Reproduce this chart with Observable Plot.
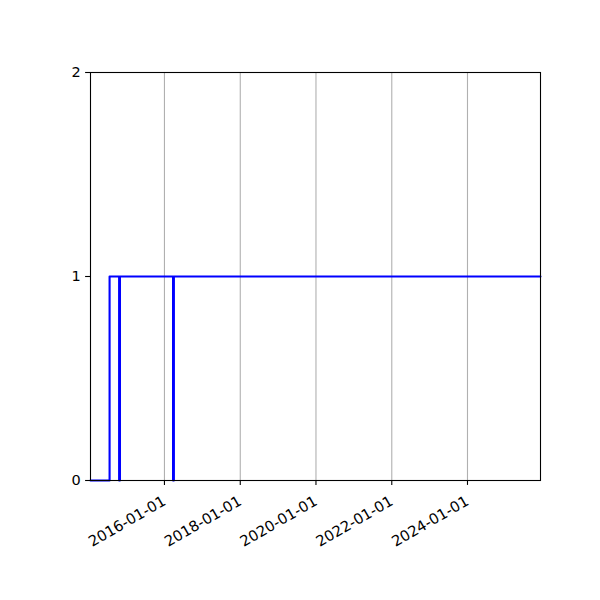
<!DOCTYPE html>
<html>
<head>
<meta charset="utf-8">
<script src="https://cdn.jsdelivr.net/npm/d3@7"></script>
<script src="https://cdn.jsdelivr.net/npm/@observablehq/plot@0.6"></script>
<style>
  html, body { margin: 0; padding: 0; background: #fff; }
  #chart svg { font-family: "DejaVu Sans", sans-serif; }
</style>
</head>
<body>
<div id="chart"></div>
<script>
const dates = ["2014-01-18", "2014-07-21", "2014-10-21", "2014-10-29", "2016-03-24", "2016-04-01", "2025-12-05"];
const values = [0, 1, 0, 1, 0, 1, 1];
const xDomain = ["2014-01-18", "2025-12-05"];
const xTickLabels = ["2016-01-01", "2018-01-01", "2020-01-01", "2022-01-01", "2024-01-01"];
const yTicks = [0, 1, 2];

const parse = d3.utcParse("%Y-%m-%d");
const data = dates.map((d, i) => ({date: parse(d), value: values[i]}));
const xTicks = xTickLabels.map(parse);
const fmt = d3.utcFormat("%Y-%m-%d");
const FONT = "DejaVu Sans, sans-serif";

const chart = Plot.plot({
  width: 600,
  height: 600,
  marginLeft: 90,
  marginRight: 60,
  marginTop: 72,
  marginBottom: 120,
  style: {fontFamily: FONT, color: "black", background: "white"},
  x: {type: "utc", domain: xDomain.map(parse)},
  y: {domain: [0, 2]},
  marks: [
    Plot.gridX(xTicks, {stroke: "#b0b0b0", strokeOpacity: 1, strokeWidth: 1.1}),
    Plot.line(data, {x: "date", y: "value", curve: "step-after", stroke: "blue", strokeWidth: 2.1}),
    Plot.frame({stroke: "black", strokeWidth: 1.1}),
    Plot.axisY({ticks: yTicks, tickSize: 4.9, tickFormat: () => "", label: null, strokeWidth: 1.1}),
    Plot.axisX({ticks: xTicks, tickSize: 4.9, tickFormat: () => "", label: null, strokeWidth: 1.1}),
    Plot.text(yTicks, {x: xDomain.map(parse)[0], y: d => d, text: d => String(d), textAnchor: "end", lineAnchor: "middle", dx: -9.7, fontSize: 14.5, fontFamily: FONT, fill: "black"}),
    Plot.text(xTicks, {x: d => d, y: 0, text: d => fmt(d), rotate: -30, textAnchor: "end", lineAnchor: "middle", dx: 0, dy: 19.5, fontSize: 14.8, fontFamily: FONT, fill: "black"})
  ]
});
document.getElementById("chart").appendChild(chart);
</script>
</body>
</html>
